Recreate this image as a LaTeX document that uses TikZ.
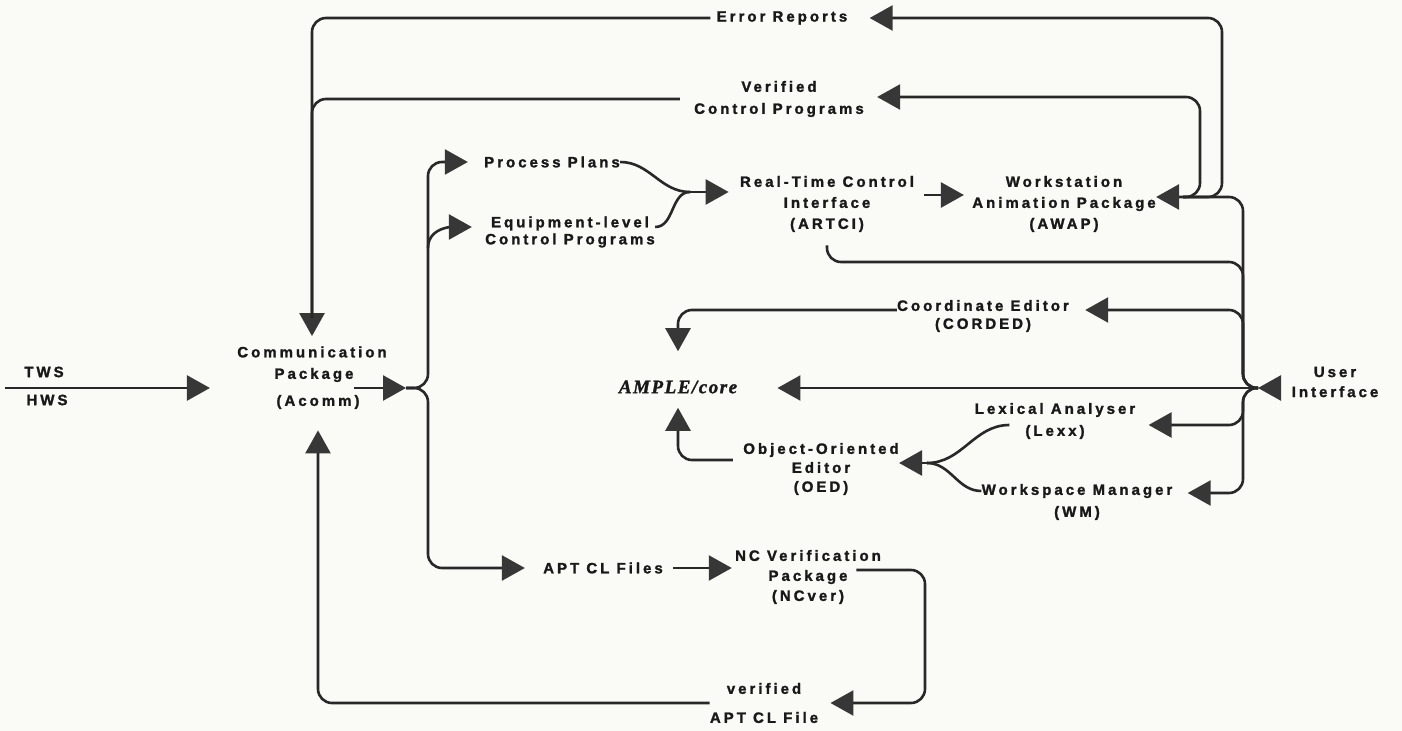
\documentclass[tikz,border=0pt]{standalone}
\usepackage{fontspec}
\setmainfont{Liberation Sans}[LetterSpace=20, BoldFeatures={FakeBold=1.5}]
\newfontfamily\amplefont{Liberation Serif}[LetterSpace=8, BoldItalicFeatures={FakeBold=1.5}]
\usetikzlibrary{arrows.meta}
\definecolor{paper}{RGB}{250,250,246}
\definecolor{inkc}{RGB}{25,25,25}
\definecolor{wirec}{RGB}{40,40,40}
\definecolor{headc}{RGB}{55,55,55}
\tikzset{
  lbl/.style={font={\fontsize{7.5}{10}\selectfont\bfseries}, align=center, inner sep=0pt, text=inkc},
  lskip/.style={font={\fontsize{7.5}{#1}\selectfont\bfseries}},
  wire/.style={draw=wirec, line width=1.3pt, rounded corners=7pt},
  feed/.style={wire, -{Triangle[length=11.5pt,width=12.5pt,color=headc]}},
}
\begin{document}
\begin{tikzpicture}[x=0.5pt, y=-0.5pt]
  \path[fill=paper] (0,0) rectangle (1402,731);

  \node[lbl] (tws) at (44,372) {TWS};
  \node[lbl] (hws) at (47,400) {HWS};
  \node[lbl] (acommname) at (312,352) {Communication};
  \node[lbl] (acomm) at (314,375) {Package};
  \node[lbl] (acommtag) at (318,402) {(Acomm)};
  \node[lbl] (errrep) at (782,18) {Error Reports};
  \node[lbl, lskip=11pt] (verprog) at (779,99) {Verified\\Control Programs};
  \node[lbl] (pplans) at (552,162) {Process Plans};
  \node[lbl, lskip=8.5pt] (eqprog) at (570,232) {Equipment-level\\Control Programs};
  \node[lbl, lskip=10.5pt] (artci) at (827,204) {Real-Time Control\\Interface\\(ARTCI)};
  \node[lbl, lskip=10.5pt] (awap) at (1064,204) {Workstation\\Animation Package\\(AWAP)};
  \node[lbl, lskip=9pt] (corded) at (983,316) {Coordinate Editor\\(CORDED)};
  \node[lbl, font={\amplefont\fontsize{9.5}{10}\selectfont\bfseries\itshape}] (ample) at (678,387) {AMPLE/core};
  \node[lbl, lskip=10pt] (uiface) at (1335,382) {User\\Interface};
  \node[lbl, lskip=11pt] (lexx) at (1055,421) {Lexical Analyser\\(Lexx)};
  \node[lbl, lskip=9.5pt] (oed) at (821,469) {Object-Oriented\\Editor\\(OED)};
  \node[lbl, lskip=11pt] (wsmgr) at (1077,502) {Workspace Manager\\(WM)};
  \node[lbl] (aptfiles) at (603,568) {APT CL Files};
  \node[lbl, lskip=10pt] (ncver) at (808,577) {NC Verification\\Package\\(NCver)};
  \node[lbl, lskip=14.5pt] (verapt) at (764,703) {verified\\APT CL File};

  \coordinate (host) at (5,388);
  \coordinate (split) at (406,388);
  \coordinate (bus) at (428,388);
  \coordinate (brace) at (690,192);
  \coordinate (uiout) at (1258,388);
  \coordinate (awapport) at (1183,197);
  \coordinate (awapbend) at (1243,197);
  \coordinate (errbend) at (1222,18);
  \coordinate (verbend) at (1200,97);
  \coordinate (artcibend) at (1243,262);
  \coordinate (cebend) at (1243,310);
  \coordinate (lexbend) at (1243,425);
  \coordinate (wmbend) at (1243,493);
  \coordinate (oedjoin) at (927,463);
  \coordinate (ncbend) at (925,703);

  \draw[feed, shorten >=13.5pt] (host) -- (acommname.west |- host);
  \draw[feed, shorten <=3pt, shorten >=5pt] (errrep.west) -| (acommname.north);
  \draw[wire, shorten <=7pt, shorten >=14pt] (verprog.west) -| (acommname.north);
  \draw[feed, shorten >=10.5pt] (verapt.west) -| (acommtag.south);

  \draw[feed] (acomm.east |- split) -- (split);
  \draw[feed, shorten >=8pt] (split) -| (bus |- pplans.west) -- (pplans.west);
  \draw[feed, shorten >=6.5pt] (bus |- eqprog.south) to[out=90,in=180] ([yshift=2.5pt]eqprog.west);
  \draw[feed, shorten >=9pt] (split) -| (bus |- aptfiles.west) -- (aptfiles.west);

  \draw[wire] (pplans.east) to[out=0,in=180] (brace);
  \draw[wire] ([yshift=2.5pt]eqprog.east) to[out=0,in=180] (brace);
  \draw[feed, shorten >=5.5pt] (brace) -- (artci.west |- brace);
  \draw[feed, shorten <=5pt, shorten >=4pt] ([yshift=4.5pt]artci.east) -- ([yshift=4.5pt]awap.west);

  \draw[feed, shorten <=5pt] (uiface.west |- uiout) -- (uiout);
  \draw[feed, shorten >=20pt] (uiout) -- (ample.east |- uiout);
  \draw[feed] (uiout) -| (awapbend) -- (awap.east |- awapbend);
  \draw[feed, shorten >=8pt] (uiout) -| (cebend) -- (corded.east |- cebend);
  \draw[feed, shorten >=6.5pt] (uiout) -| (lexbend) -- (lexx.east |- lexbend);
  \draw[feed, shorten >=7.5pt] (uiout) -| (wmbend) -- (wsmgr.east |- wmbend);
  \draw[wire] ([yshift=-6.5pt]artci.south) |- (artcibend) |- (uiout);

  \draw[feed, shorten >=11pt] (awapport) -| (errbend) -- (errrep.east |- errbend);
  \draw[feed, shorten >=6.5pt] (awapport) -| (verbend) -- (verprog.east |- verbend);

  \draw[feed, shorten >=14.5pt] (corded.west |- cebend) -| (ample.north);
  \draw[feed, shorten <=5pt, shorten >=7pt] ([yshift=4.5pt]oed.west) -| (ample.south);
  \draw[wire] ([xshift=17.5pt,yshift=-2pt]lexx.west) to[out=180,in=0] (oedjoin);
  \draw[wire] ([yshift=5.5pt]wsmgr.west) to[out=180,in=0] (oedjoin);
  \draw[feed] (oedjoin) -- (oed.east |- oedjoin);

  \draw[feed, shorten <=5pt, shorten >=1.5pt] (aptfiles.east) -- (ncver.west |- aptfiles);
  \draw[feed, shorten >=6pt] ([xshift=-12.5pt,yshift=3.5pt]ncver.east) -| (ncbend) -- (verapt.east |- ncbend);
\end{tikzpicture}
\end{document}
